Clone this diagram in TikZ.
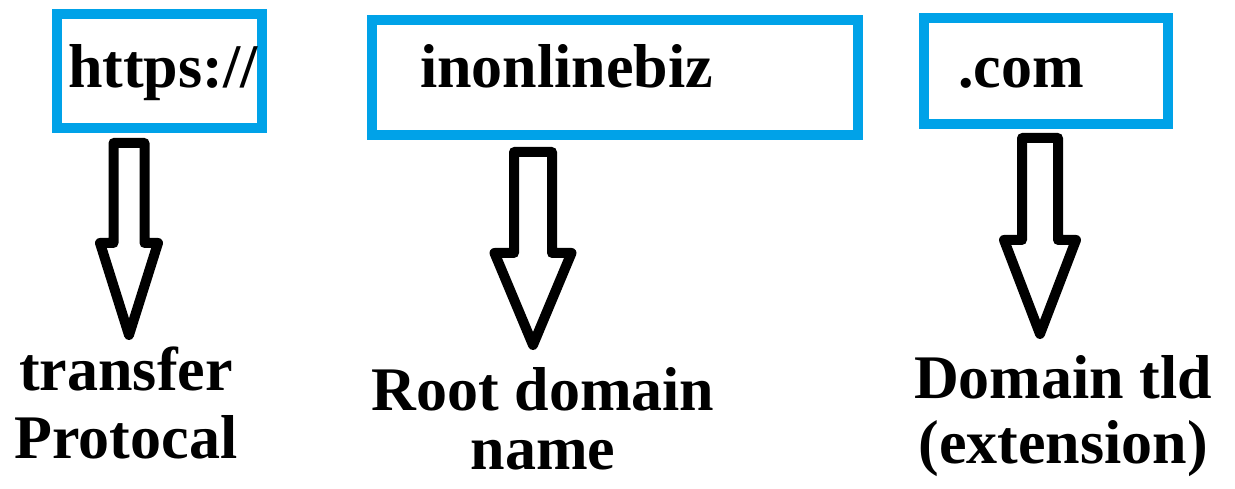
\documentclass[tikz,border=0pt]{standalone}
\usepackage{fontspec}
\setmainfont{Liberation Serif}
\definecolor{boxblue}{RGB}{0,162,232}
\def\textline{88}
\newcommand{\bigfont}{\fontsize{62}{66}\selectfont\bfseries}
\newcommand{\urlpart}[7]{
    \node[urlbox, minimum width=#4pt, minimum height=#5pt] (#1box) at (#2,#3) {};
    \node[bigtext, anchor=base west] (#1) at (#6,\textline) {#7};
}
\newcommand{\hollowarrow}[6]{
    \draw[blockarrow] (#1-#5,#2) -- (#1+#5,#2) -- (#1+#5,#3) -- (#1+#6,#3)
        -- (#1,#4) -- (#1-#6,#3) -- (#1-#5,#3) -- cycle;
}

\begin{document}
\begin{tikzpicture}[x=1pt, y=-1pt,
        urlbox/.style={draw=boxblue, line width=10pt, inner sep=0pt, outer sep=0pt},
        bigtext/.style={font=\bigfont, inner sep=0pt},
        blockarrow/.style={draw=black, line width=10pt, line join=round}]
    \useasboundingbox (0,0) rectangle (1235,489);
    \urlpart{proto}{159.5}{71}{205}{114}{68}{https://}
    \urlpart{root}{615}{77.75}{486}{115.5}{420}{inonlinebiz}
    \urlpart{tld}{1045.75}{71}{244.5}{106}{958}{.com}
    \hollowarrow{129}{143}{243}{335}{15.5}{29}
    \hollowarrow{533}{152}{253}{345}{19}{38.5}
    \hollowarrow{1040}{138}{240}{334}{18}{36}
    % base anchor sits on the last line
    \node[bigtext, align=center, anchor=base] (protolabel) at (126,458) {transfer\\[2pt]Protocal};
    \node[bigtext, align=center, anchor=base] (rootlabel) at (543,469) {Root domain\\[-7pt]name};
    \node[bigtext, align=center, anchor=base] (tldlabel) at (1063,463) {Domain tld\\[-1pt](extension)};
\end{tikzpicture}
\end{document}
